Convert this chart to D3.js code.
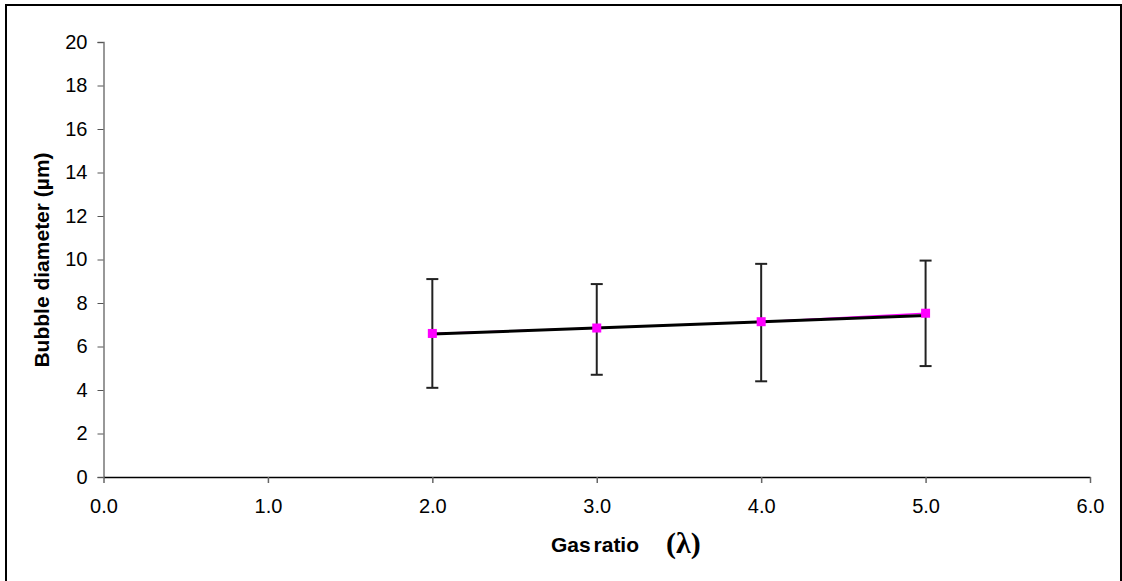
<!DOCTYPE html>
<html>
<head>
<meta charset="utf-8">
<script src="https://cdn.jsdelivr.net/npm/d3@7"></script>
<style>
  html, body { margin: 0; padding: 0; background: #fff; }
  svg { display: block; }
  .lambda { font-family: "Liberation Serif", "DejaVu Serif", serif; }
</style>
</head>
<body>
<svg id="chart" width="1122" height="581"></svg>
<script>
// Measured bubble diameters against gas ratio
const gasRatio = [2.0, 3.0, 4.0, 5.0];
const meanDiameter = [6.6, 6.85, 7.14, 7.53];
const errLow = [4.1, 4.7, 4.4, 5.1];
const errHigh = [9.1, 8.87, 9.8, 9.95];

// Linear trend line end points
const trendX = [2.0, 5.0];
const trendY = [6.57, 7.42];

const xTicks = [0, 1, 2, 3, 4, 5, 6];
const yTicks = [0, 2, 4, 6, 8, 10, 12, 14, 16, 18, 20];

const svg = d3.select("#chart");
const margin = { left: 103.5, right: 1090, top: 42, bottom: 477 };

const x = d3.scaleLinear().domain([0, 6]).range([margin.left, margin.right]);
const y = d3.scaleLinear().domain([0, 20]).range([margin.bottom, margin.top]);

// Outer frame
svg.append("rect")
  .attr("x", 6).attr("y", 5)
  .attr("width", 1115).attr("height", 620)
  .attr("fill", "none").attr("stroke", "#000").attr("stroke-width", 2);

const font = "Arial, 'Liberation Sans', sans-serif";

// Y axis
const yAxis = svg.append("g")
  .attr("transform", `translate(${margin.left},0)`)
  .call(d3.axisLeft(y).tickValues(yTicks).tickSize(6).tickPadding(10).tickFormat(d3.format("d")));
yAxis.select(".domain").attr("stroke", "#777").attr("stroke-width", 1.5);
yAxis.selectAll(".tick line").attr("stroke", "#555");
yAxis.selectAll("text").attr("font-family", font).attr("font-size", 20).attr("fill", "#000");

// X axis
const xAxis = svg.append("g")
  .attr("transform", `translate(0,${margin.bottom})`)
  .call(d3.axisBottom(x).tickValues(xTicks).tickSize(6).tickSizeOuter(0).tickPadding(16).tickFormat(d3.format(".1f")));
xAxis.select(".domain").attr("stroke", "#000").attr("stroke-width", 1.5);
xAxis.selectAll(".tick line").attr("stroke", "#666").attr("stroke-width", 1.5);
xAxis.selectAll("text").attr("font-family", font).attr("font-size", 20).attr("fill", "#000");

// Axis titles
svg.append("text")
  .attr("transform", `translate(49,260) rotate(-90)`)
  .attr("text-anchor", "middle")
  .attr("font-family", font).attr("font-size", 21).attr("font-weight", "bold")
  .text("Bubble diameter (µm)");

svg.append("text")
  .attr("x", 551).attr("y", 552)
  .attr("font-family", font).attr("font-size", 21).attr("font-weight", "bold")
  .attr("word-spacing", -3)
  .text("Gas ratio");

svg.append("text")
  .attr("class", "lambda")
  .attr("x", 666).attr("y", 553)
  .attr("font-size", 30).attr("font-weight", "bold")
  .text("(λ)");

const pts = gasRatio.map((g, i) => ({ g, m: meanDiameter[i], lo: errLow[i], hi: errHigh[i] }));

// Error bars
const eb = svg.append("g").attr("stroke", "#222").attr("stroke-width", 2);
pts.forEach(p => {
  eb.append("line").attr("x1", x(p.g)).attr("x2", x(p.g)).attr("y1", y(p.lo)).attr("y2", y(p.hi));
  eb.append("line").attr("x1", x(p.g) - 6).attr("x2", x(p.g) + 6).attr("y1", y(p.lo)).attr("y2", y(p.lo));
  eb.append("line").attr("x1", x(p.g) - 6).attr("x2", x(p.g) + 6).attr("y1", y(p.hi)).attr("y2", y(p.hi));
});

// Series line
svg.append("path")
  .datum(pts)
  .attr("fill", "none").attr("stroke", "#ff00ff").attr("stroke-width", 1.5)
  .attr("d", d3.line().x(d => x(d.g)).y(d => y(d.m)));

// Trend line
svg.append("path")
  .datum(trendX.map((t, i) => [t, trendY[i]]))
  .attr("fill", "none").attr("stroke", "#000").attr("stroke-width", 3)
  .attr("d", d3.line().x(d => x(d[0])).y(d => y(d[1])));

// Markers
svg.append("g").selectAll("rect")
  .data(pts).join("rect")
  .attr("x", d => x(d.g) - 4.5).attr("y", d => y(d.m) - 4.5)
  .attr("width", 9).attr("height", 9)
  .attr("fill", "#ff00ff");
</script>
</body>
</html>
